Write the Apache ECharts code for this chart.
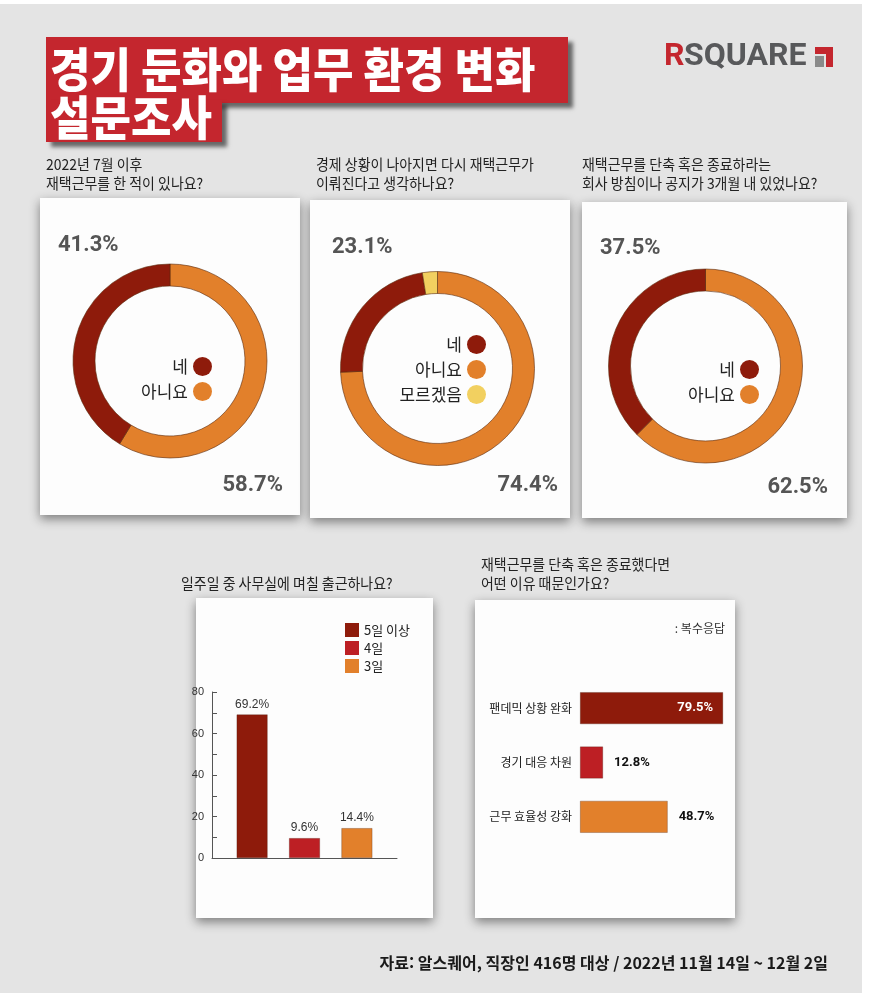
<!DOCTYPE html>
<html lang="ko">
  <head>
    <meta charset="UTF-8" />
    <title>경기 둔화와 업무 환경 변화 설문조사</title>
    <script src="https://cdn.jsdelivr.net/npm/echarts@6/dist/echarts.min.js"></script>
    <style>
      html,
      body {
        margin: 0;
        padding: 0;
        background: #fff;
      }
      #main {
        width: 878px;
        height: 1005px;
      }
    </style>
  </head>
  <body>
    <div id="main"></div>
    <script type="text/javascript">
      // 설문 데이터
      var q1Names = ["네", "아니요"];
      var q1Values = [41.3, 58.7];
      var q2Names = ["네", "아니요", "모르겠음"];
      var q2Values = [23.1, 74.4, 2.5];
      var q3Names = ["네", "아니요"];
      var q3Values = [37.5, 62.5];
      var dayNames = ["5일 이상", "4일", "3일"];
      var dayValues = [69.2, 9.6, 14.4];
      var reasonNames = ["팬데믹 상황 완화", "경기 대응 차원", "근무 효율성 강화"];
      var reasonValues = [79.5, 12.8, 48.7];

      var KR = "'Noto Sans CJK KR', sans-serif";
      var NUM = "Roboto, 'Noto Sans CJK KR', sans-serif";
      var colorMap = {
        네: "#8e1b0b",
        아니요: "#e2802b",
        모르겠음: "#f2d060",
      };
      var dayColors = ["#8e1b0b", "#bd1f24", "#e2802b"];
      var reasonColors = ["#8e1b0b", "#bd1f24", "#e2802b"];

      var myChart = echarts.init(document.getElementById("main"));

      // 도넛: 아니요부터 시계방향, 네, 모르겠음 순서
      function donut(names, values, center) {
        var order = [1, 0, 2];
        var data = [];
        order.forEach(function (i) {
          if (i < names.length) {
            data.push({
              name: names[i],
              value: values[i],
              itemStyle: { color: colorMap[names[i]] },
            });
          }
        });
        return {
          type: "pie",
          center: center,
          radius: [75, 97],
          startAngle: 90,
          clockwise: true,
          silent: true,
          label: { show: false },
          labelLine: { show: false },
          itemStyle: { borderColor: "#5b2a0e", borderWidth: 0.6 },
          data: data,
        };
      }

      function panel(x, y, w, h) {
        return {
          type: "rect",
          z: 0,
          shape: { x: x, y: y, width: w, height: h },
          style: {
            fill: "#fdfdfd",
            shadowBlur: 10,
            shadowColor: "rgba(0,0,0,0.45)",
            shadowOffsetY: 4,
          },
        };
      }

      function txt(str, x, y, opt) {
        opt = opt || {};
        return {
          type: "text",
          z: 10,
          x: x,
          y: y,
          scaleX: opt.scaleX || 1,
          scaleY: opt.scaleY || 1,
          style: {
            text: str,
            x: 0,
            y: 0,
            fill: opt.color || "#222",
            font:
              (opt.weight || "normal") +
              " " +
              (opt.size || 15) +
              "px " +
              (opt.family || KR),
            textAlign: opt.align || "left",
            textVerticalAlign: "middle",
          },
        };
      }

      function donutLegend(names, right, top) {
        return {
          data: names,
          orient: "vertical",
          align: "right",
          right: right,
          top: top,
          padding: 0,
          icon: "circle",
          itemWidth: 19,
          itemHeight: 19,
          itemGap: 6,
          selectedMode: false,
          itemStyle: { borderWidth: 0 },
          textStyle: { fontSize: 17, lineHeight: 19, color: "#222", fontFamily: KR },
        };
      }

      var qOpt = { size: 15, scaleX: 0.93, color: "#222" };
      var pctOpt = { size: 22, weight: "bold", color: "#555", family: NUM };
      var titleOpt = { size: 44, weight: 900, color: "#fff", scaleY: 1.05 };

      option = {
        backgroundColor: "#ffffff",
        animation: false,
        graphic: [
          {
            type: "rect",
            z: -10,
            shape: { x: 0, y: 4, width: 862, height: 989 },
            style: { fill: "#e4e4e4" },
          },
          // 제목 박스
          {
            type: "rect",
            z: 1,
            shape: { x: 46, y: 37, width: 522, height: 66 },
            style: {
              fill: "#c4262e",
              shadowBlur: 4,
              shadowColor: "rgba(0,0,0,0.55)",
              shadowOffsetX: 5,
              shadowOffsetY: 5,
            },
          },
          {
            type: "rect",
            z: 1,
            shape: { x: 46, y: 100, width: 176, height: 42 },
            style: {
              fill: "#c4262e",
              shadowBlur: 4,
              shadowColor: "rgba(0,0,0,0.55)",
              shadowOffsetX: 5,
              shadowOffsetY: 5,
            },
          },
          txt("경기 둔화와 업무 환경 변화", 50, 69, titleOpt),
          txt("설문조사", 50, 117, titleOpt),
          // 로고
          txt("R", 664, 57, { size: 32, weight: "bold", color: "#c4262e", family: NUM }),
          txt("SQUARE", 684, 57, { size: 32, weight: "bold", color: "#58595b", family: NUM }),
          {
            type: "rect",
            z: 10,
            shape: { x: 815, y: 47, width: 18, height: 7 },
            style: { fill: "#c4262e" },
          },
          {
            type: "rect",
            z: 10,
            shape: { x: 826, y: 47, width: 7, height: 20 },
            style: { fill: "#c4262e" },
          },
          {
            type: "rect",
            z: 10,
            shape: { x: 815, y: 56, width: 9, height: 11 },
            style: { fill: "#8a8a8a" },
          },
          // 질문
          txt("2022년 7월 이후", 46, 164, qOpt),
          txt("재택근무를 한 적이 있나요?", 46, 183, qOpt),
          txt("경제 상황이 나아지면 다시 재택근무가", 316, 164, qOpt),
          txt("이뤄진다고 생각하나요?", 316, 183, qOpt),
          txt("재택근무를 단축 혹은 종료하라는", 582, 164, qOpt),
          txt("회사 방침이나 공지가 3개월 내 있었나요?", 582, 183, qOpt),
          txt("일주일 중 사무실에 며칠 출근하나요?", 181, 583, qOpt),
          txt("재택근무를 단축 혹은 종료했다면", 481, 564, qOpt),
          txt("어떤 이유 때문인가요?", 481, 583, qOpt),
          // 패널
          panel(40, 198, 260, 317),
          panel(310, 200, 260, 318),
          panel(582, 202, 265, 316),
          panel(196, 598, 237, 320),
          panel(475, 600, 260, 318),
          // 도넛 퍼센트
          txt(q1Values[0] + "%", 58, 245, pctOpt),
          txt(q1Values[1] + "%", 283, 485, Object.assign({ align: "right" }, pctOpt)),
          txt(q2Values[0] + "%", 332, 247, pctOpt),
          txt(q2Values[1] + "%", 558, 485, Object.assign({ align: "right" }, pctOpt)),
          txt(q3Values[0] + "%", 600, 248, pctOpt),
          txt(q3Values[1] + "%", 828, 487, Object.assign({ align: "right" }, pctOpt)),
          txt(": 복수응답", 725, 628, { size: 12, color: "#333", align: "right" }),
          // 출처
          txt(
            "자료: 알스퀘어, 직장인 416명 대상 / 2022년 11월 14일 ~ 12월 2일",
            828,
            963,
            { size: 16, weight: "bold", color: "#1a1a1a", align: "right" }
          ),
        ],
        legend: [
          donutLegend(q1Names, 666, 357),
          donutLegend(q2Names, 392, 335),
          donutLegend(q3Names, 119, 360),
          {
            data: dayNames,
            orient: "vertical",
            left: 345,
            top: 623,
            padding: 0,
            icon: "rect",
            itemWidth: 14,
            itemHeight: 14,
            itemGap: 4,
            selectedMode: false,
            itemStyle: { borderWidth: 0 },
            textStyle: { fontSize: 13, color: "#222", fontFamily: KR },
          },
        ],
        grid: [
          {
            left: 212,
            top: 692,
            width: 185,
            height: 166,
            outerBoundsMode: "none",
          },
          {
            left: 580,
            top: 681,
            width: 144,
            height: 163,
            outerBoundsMode: "none",
          },
        ],
        xAxis: [
          {
            gridIndex: 0,
            type: "category",
            data: ["출근"],
            axisLine: { lineStyle: { color: "#555", width: 1 } },
            axisTick: { show: false },
            axisLabel: { show: false },
          },
          {
            gridIndex: 1,
            type: "value",
            min: 0,
            max: 80,
            show: false,
          },
        ],
        yAxis: [
          {
            gridIndex: 0,
            type: "value",
            min: 0,
            max: 80,
            interval: 10,
            axisLine: { show: true, lineStyle: { color: "#555", width: 1 } },
            axisTick: {
              show: true,
              inside: true,
              length: 5,
              lineStyle: { color: "#555" },
            },
            splitLine: { show: false },
            axisLabel: {
              fontSize: 11,
              color: "#333",
              margin: 8,
              fontFamily: "Arial, sans-serif",
              formatter: function (v) {
                return v % 20 === 0 ? v : "";
              },
            },
          },
          {
            gridIndex: 1,
            type: "category",
            inverse: true,
            data: reasonNames,
            axisLine: { show: false },
            axisTick: { show: false },
            axisLabel: {
              fontSize: 12,
              color: "#222",
              margin: 8,
              fontFamily: KR,
            },
          },
        ],
        series: [
          donut(q1Names, q1Values, [170, 361]),
          donut(q2Names, q2Values, [437.5, 368.5]),
          donut(q3Names, q3Values, [705.5, 366]),
        ]
          .concat(
            dayNames.map(function (n, i) {
              return {
                name: n,
                type: "bar",
                xAxisIndex: 0,
                yAxisIndex: 0,
                barWidth: 31,
                barGap: "69%",
                silent: true,
                itemStyle: {
                  color: dayColors[i],
                  borderColor: "rgba(60,20,0,0.45)",
                  borderWidth: 0.6,
                },
                label: {
                  show: true,
                  position: "top",
                  distance: 4,
                  formatter: "{c}%",
                  fontSize: 12,
                  color: "#333",
                  fontFamily: "Arial, sans-serif",
                },
                data: [dayValues[i]],
              };
            })
          )
          .concat([
            {
              name: "이유",
              type: "bar",
              xAxisIndex: 1,
              yAxisIndex: 1,
              barWidth: 32,
              silent: true,
              data: reasonValues.map(function (v, i) {
                var inside = i === 0;
                return {
                  value: v,
                  itemStyle: {
                    color: reasonColors[i],
                    borderColor: "rgba(60,20,0,0.45)",
                    borderWidth: 0.6,
                  },
                  label: {
                    show: true,
                    position: inside ? "insideRight" : "right",
                    distance: inside ? 10 : 11,
                    formatter: "{c}%",
                    fontSize: 13,
                    fontWeight: "bold",
                    fontFamily: NUM,
                    color: inside ? "#fff" : "#111",
                  },
                };
              }),
            },
          ]),
      };
      myChart.setOption(option);
    </script>
  </body>
</html>
